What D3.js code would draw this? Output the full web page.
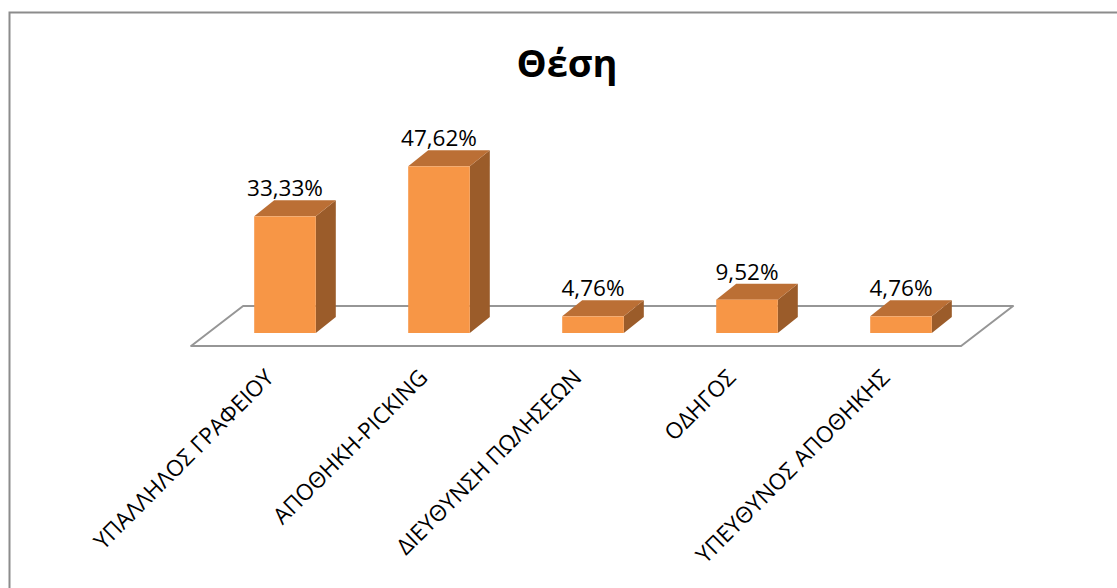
<!DOCTYPE html>
<html>
<head>
<meta charset="utf-8">
<script src="https://cdn.jsdelivr.net/npm/d3@7"></script>
<style>
  body { margin: 0; background: #fff; }
  text { font-family: "Open Sans", "Noto Sans", sans-serif; fill: #000; }
</style>
</head>
<body>
<div id="chart"></div>
<script>
const width = 1117, height = 588;

// data
const categories = ["ΥΠΑΛΛΗΛΟΣ ΓΡΑΦΕΙΟΥ", "ΑΠΟΘΗΚΗ-PICKING", "ΔΙΕΥΘΥΝΣΗ ΠΩΛΗΣΕΩΝ", "ΟΔΗΓΟΣ", "ΥΠΕΥΘΥΝΟΣ ΑΠΟΘΗΚΗΣ"];
const values = [33.33, 47.62, 4.76, 9.52, 4.76];
const valueLabels = ["33,33%", "47,62%", "4,76%", "9,52%", "4,76%"];
const title = "Θέση";

const svg = d3.select("#chart").append("svg")
    .attr("width", width)
    .attr("height", height);

// chart border (runs off the right and bottom edge like the original)
svg.append("rect")
    .attr("x", 9.5).attr("y", 12.5)
    .attr("width", 1200).attr("height", 700)
    .attr("fill", "#fff")
    .attr("stroke", "#8c8c8c")
    .attr("stroke-width", 2);

svg.append("text")
    .attr("x", 567).attr("y", 77)
    .attr("text-anchor", "middle")
    .style("font-size", "38px")
    .style("font-weight", "bold")
    .text(title);

// bars' front plane
const x = d3.scaleBand()
    .domain(categories)
    .range([208, 978])
    .paddingInner(0.6)
    .paddingOuter(0.3);

const y = d3.scaleLinear()
    .domain([0, 50])
    .range([333, 158]);

// 3d offsets
const barDepth = [20, -16];
const floorFront = 346, floorBack = 306;
const floorDx = 52;
const shiftFront = (floorFront - y(0)) / (floorFront - floorBack) * floorDx;

// floor
const fl = x.range()[0] - shiftFront, fr = x.range()[1] - shiftFront;
svg.append("path")
    .attr("d", `M${fl},${floorFront}L${fr},${floorFront}L${fr + floorDx},${floorBack}L${fl + floorDx},${floorBack}Z`)
    .attr("fill", "#fff")
    .attr("stroke", "#969696")
    .attr("stroke-width", 2)
    .attr("stroke-linejoin", "round");

const bars = svg.append("g").selectAll("g")
    .data(categories)
    .enter().append("g");

const [dx, dy] = barDepth;

// side
bars.append("path")
    .attr("d", (d, i) => {
        const x1 = x(d) + x.bandwidth(), t = y(values[i]), b = y(0);
        return `M${x1},${b}L${x1},${t}L${x1 + dx},${t + dy}L${x1 + dx},${b + dy}Z`;
    })
    .attr("fill", "#9b5c2a");

// top
bars.append("path")
    .attr("d", (d, i) => {
        const x0 = x(d), x1 = x0 + x.bandwidth(), t = y(values[i]);
        return `M${x0},${t}L${x1},${t}L${x1 + dx},${t + dy}L${x0 + dx},${t + dy}Z`;
    })
    .attr("fill", "#bb6f35");

// front
bars.append("rect")
    .attr("x", d => x(d))
    .attr("y", (d, i) => y(values[i]))
    .attr("width", x.bandwidth())
    .attr("height", (d, i) => y(0) - y(values[i]))
    .attr("fill", "#f79646");

// value labels
bars.append("text")
    .attr("x", d => x(d) + x.bandwidth() / 2)
    .attr("y", (d, i) => y(values[i]) + dy - 4)
    .attr("text-anchor", "middle")
    .style("font-size", "22.5px")
    .text((d, i) => valueLabels[i]);

// category labels
svg.append("g").selectAll("text")
    .data(categories)
    .enter().append("text")
    .attr("transform", d => `translate(${x(d) + x.bandwidth() / 2 - shiftFront + 7},${floorFront + 33}) rotate(-45)`)
    .attr("text-anchor", "end")
    .style("font-size", "22.5px")
    .text(d => d);
</script>
</body>
</html>
